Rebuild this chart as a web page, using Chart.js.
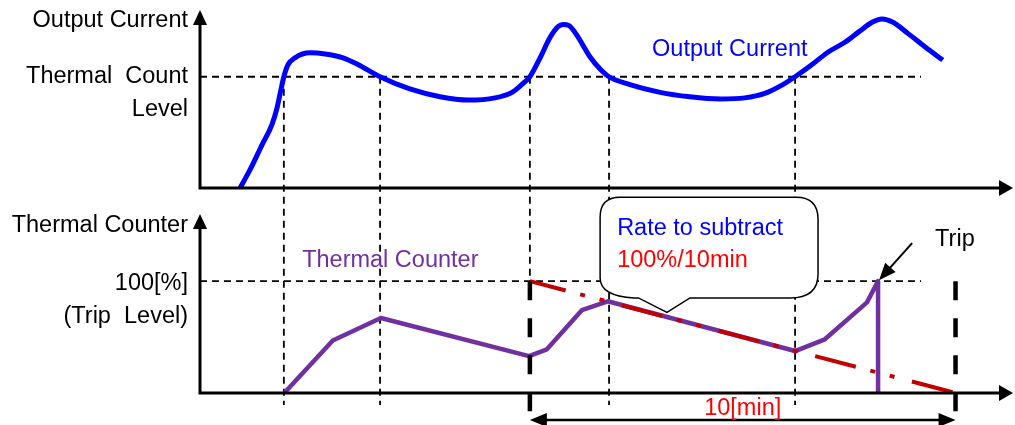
<!DOCTYPE html>
<html><head><meta charset="utf-8">
<script src="https://cdn.jsdelivr.net/npm/chart.js@4.4.1/dist/chart.umd.min.js"></script>
<style>html,body{margin:0;padding:0;background:#fff;overflow:hidden}#wrap{position:relative;width:1015px;height:425px}</style>
</head><body><div id="wrap"><canvas id="c" width="1015" height="425"></canvas></div>
<script>
// ---- data (time in minutes, values in % of level) ----
const currentTime = [0.94,1.17,1.46,1.69,1.81,1.90,1.97,2.07,2.23,2.58,2.94,3.36,3.71,4.23,4.93,5.64,6.30,6.93,7.33,7.56,7.75,7.99,8.22,8.41,8.53,8.67,8.86,9.16,9.40,9.61,10.10,10.81,11.51,12.22,12.80,13.27,13.65,13.98,14.38,14.75,15.15,15.50,15.79,16.02,16.28,16.63,17.03,17.45];
const currentValue = [0,16,39,57,72,88,100,111,117,121.5,120.5,117,111,100,89,82,79,81,86,93,100,117,135,145,147,146,137,118,107,100,93,86,82,80,81,85,92,100,111,122,131,141,149,152,149,139,127,115];
const counterTime = [1.98,3.12,4.25,7.73,8.15,8.97,9.58,13.98,14.68,15.67,15.93,15.93];
const counterValue = [0,47,67,33,39,74,82,37.5,48,81,100,0];
const subtractTime = [7.75,17.75];
const subtractValue = [100,0];
const eventTimes = [1.97,4.23,7.75,9.61,13.98];
const windowStart = 7.75, windowEnd = 17.75, tripTime = 15.93;
const levelValue = 100, levelEndTime = 16.94;
const leftTopLabels = ['Output Current','Thermal  Count','Level'];
const leftBottomLabels = ['Thermal Counter','100[%]','(Trip  Level)'];

// ---- layout ----
const AREA_TOP = 10, AREA_BOTTOM = 393, H = AREA_BOTTOM - AREA_TOP;
const TOP_ZERO_PX = 188, BOT_TOP_PX = 214;
const yTmin = 160 - 160 * H / (TOP_ZERO_PX - AREA_TOP);
const yBmax = 160 * H / (AREA_BOTTOM - BOT_TOP_PX);
const FONT = "23.5px 'Liberation Sans', Arial, sans-serif";

const pts = (xs, ys) => xs.map((x, i) => ({x, y: ys[i]}));

function arrowHead(ctx, tx, ty, ang, len, hw) {
  ctx.beginPath();
  ctx.moveTo(tx, ty);
  ctx.lineTo(tx - len*Math.cos(ang) + hw*Math.sin(ang), ty - len*Math.sin(ang) - hw*Math.cos(ang));
  ctx.lineTo(tx - len*Math.cos(ang) - hw*Math.sin(ang), ty - len*Math.sin(ang) + hw*Math.cos(ang));
  ctx.closePath(); ctx.fill();
}

const overlay = {
  id: 'overlay',
  beforeDatasetsDraw(chart) {
    const ctx = chart.ctx, s = chart.scales;
    const X = t => s.x.getPixelForValue(t), YT = v => s.yT.getPixelForValue(v), YB = v => s.yB.getPixelForValue(v);
    ctx.save();
    ctx.strokeStyle = '#000'; ctx.lineWidth = 1.8; ctx.setLineDash([7,5]);
    ctx.beginPath();
    ctx.moveTo(X(0), YT(levelValue)); ctx.lineTo(X(levelEndTime), YT(levelValue));
    ctx.moveTo(X(0), YB(levelValue)); ctx.lineTo(X(levelEndTime), YB(levelValue));
    ctx.stroke();
    eventTimes.forEach(t => {
      ctx.beginPath();
      ctx.moveTo(X(t), YT(levelValue));
      ctx.lineTo(X(t), t === windowStart ? YB(levelValue) : YB(0) + 12);
      ctx.stroke();
    });
    ctx.restore();
  },
  afterDatasetsDraw(chart) {
    const ctx = chart.ctx, s = chart.scales;
    const X = t => s.x.getPixelForValue(t), YT = v => s.yT.getPixelForValue(v), YB = v => s.yB.getPixelForValue(v);
    const x0 = X(0), xEnd = X(s.x.max);
    ctx.save();
    ctx.fillStyle = '#000'; ctx.strokeStyle = '#000';
    // axes
    ctx.lineWidth = 3; ctx.setLineDash([]);
    [[YT(0), YT(160)], [YB(0), YB(160)]].forEach(([yz, ytop]) => {
      ctx.beginPath();
      ctx.moveTo(x0 - 1.5, yz); ctx.lineTo(xEnd - 10, yz);
      ctx.moveTo(x0, yz + 1.5); ctx.lineTo(x0, ytop + 12);
      ctx.stroke();
      arrowHead(ctx, xEnd, yz, 0, 14, 8);
      arrowHead(ctx, x0, ytop, -Math.PI/2, 15, 7);
    });
    // thick dashed window bounds
    ctx.lineWidth = 4.5; ctx.setLineDash([19,18]);
    [windowStart, windowEnd].forEach(t => {
      ctx.beginPath(); ctx.moveTo(X(t), YB(levelValue)); ctx.lineTo(X(t), YB(0) + 19); ctx.stroke();
    });
    // double arrow for the 10 min window
    ctx.setLineDash([]); ctx.lineWidth = 2.5;
    const ya = YB(0) + 27;
    ctx.beginPath(); ctx.moveTo(X(windowStart) + 10, ya); ctx.lineTo(X(windowEnd) - 10, ya); ctx.stroke();
    arrowHead(ctx, X(windowStart), ya, Math.PI, 17, 7);
    arrowHead(ctx, X(windowEnd), ya, 0, 17, 7);
    // bubble
    const L = X(9.4), R = X(14.52), T = YB(175), B = YB(85);
    const tipX = X(10.97), tipY = YB(72), tl = X(10.3), tr = X(11.51);
    ctx.beginPath();
    ctx.moveTo(L + 20, T);
    ctx.lineTo(R - 22, T); ctx.quadraticCurveTo(R, T, R, T + 22);
    ctx.lineTo(R, B - 24); ctx.quadraticCurveTo(R, B, R - 28, B);
    ctx.lineTo(tr, B); ctx.lineTo(tipX, tipY); ctx.lineTo(tl, B);
    ctx.lineTo(L + 34, B); ctx.quadraticCurveTo(L, B - 2, L, B - 20);
    ctx.lineTo(L, T + 20); ctx.quadraticCurveTo(L, T, L + 20, T);
    ctx.closePath();
    ctx.fillStyle = '#fff'; ctx.fill();
    ctx.lineWidth = 1.5; ctx.strokeStyle = '#000'; ctx.stroke();
    // trip arrow
    ctx.fillStyle = '#000'; ctx.lineWidth = 2;
    const ax0 = X(16.73), ay0 = YB(134), ax1 = X(tripTime) + 1, ay1 = YB(levelValue) - 1;
    const ang = Math.atan2(ay1 - ay0, ax1 - ax0);
    ctx.beginPath(); ctx.moveTo(ax0, ay0); ctx.lineTo(ax1 - 12*Math.cos(ang), ay1 - 12*Math.sin(ang)); ctx.stroke();
    arrowHead(ctx, ax1, ay1, ang, 17, 7);
    // texts
    ctx.font = FONT; ctx.textBaseline = 'alphabetic';
    ctx.textAlign = 'right'; ctx.fillStyle = '#000';
    ctx.fillText(leftTopLabels[0], x0 - 12, YT(160) + 17);
    ctx.fillText(leftTopLabels[1], x0 - 12, YT(levelValue) + 6);
    ctx.fillText(leftTopLabels[2], x0 - 12, YT(levelValue) + 39);
    ctx.fillText(leftBottomLabels[0], x0 - 12, YB(160) + 18);
    ctx.fillText(leftBottomLabels[1], x0 - 12, YB(levelValue) + 9);
    ctx.fillText(leftBottomLabels[2], x0 - 12, YB(levelValue) + 42);
    ctx.textAlign = 'left';
    ctx.fillStyle = '#0000ff'; ctx.fillText('Output Current', X(10.62), YT(118.7));
    ctx.fillStyle = '#7030a0'; ctx.fillText('Thermal Counter', X(2.4), YB(112.6));
    ctx.fillStyle = '#0000ff'; ctx.fillText('Rate to subtract', X(9.8), YB(141.2));
    ctx.fillStyle = '#ff0000'; ctx.fillText('100%/10min', X(9.8), YB(112.6));
    ctx.fillStyle = '#000'; ctx.fillText('Trip', X(17.27), YB(131.4));
    ctx.textAlign = 'center'; ctx.fillStyle = '#ff0000';
    ctx.fillText('10[min]', X((windowStart + windowEnd) / 2), YB(0) + 22);
    ctx.restore();
  }
};

new Chart(document.getElementById('c'), {
  type: 'line',
  data: {
    datasets: [
      {data: pts(subtractTime, subtractValue), yAxisID: 'yB', borderColor: '#c00000', borderWidth: 4,
       borderDash: [42,15,5,15,5,18], borderDashOffset: 5, borderCapStyle: 'butt', pointRadius: 0, tension: 0, order: 0},
      {data: pts(counterTime, counterValue), yAxisID: 'yB', borderColor: '#7030a0', borderWidth: 4.5,
       borderJoinStyle: 'round', pointRadius: 0, tension: 0, order: 1},
      {data: pts(currentTime, currentValue), yAxisID: 'yT', borderColor: '#0000ff', borderWidth: 5,
       cubicInterpolationMode: 'monotone', borderJoinStyle: 'round', pointRadius: 0, order: 2}
    ]
  },
  options: {
    responsive: false, animation: false, events: [],
    layout: {padding: {left: 200, right: 2, top: AREA_TOP, bottom: 425 - AREA_BOTTOM}},
    plugins: {legend: {display: false}, tooltip: {enabled: false}},
    scales: {
      x: {type: 'linear', min: 0, max: 19.1, display: false},
      yT: {type: 'linear', min: yTmin, max: 160, display: false},
      yB: {type: 'linear', min: 0, max: yBmax, display: false}
    }
  },
  plugins: [overlay]
});
</script></body></html>
